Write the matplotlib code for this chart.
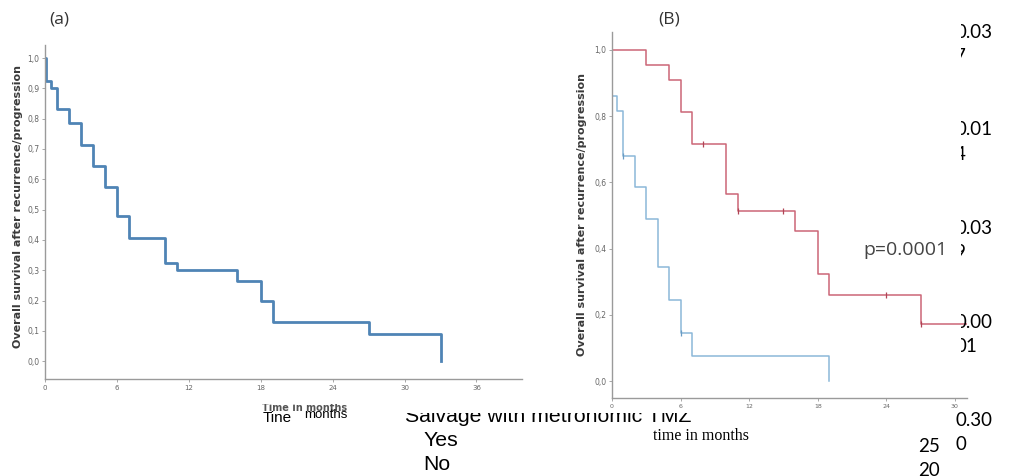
import matplotlib
matplotlib.use("Agg")
import matplotlib.pyplot as plt
from matplotlib.ticker import FuncFormatter
from matplotlib.transforms import Bbox, TransformedBbox

W, H = 1019, 476

# (a) overall survival after recurrence / progression, all patients
months_a = [0, 0.1, 0.5, 1, 2, 3, 4, 5, 6, 7, 10, 11, 16, 18, 19, 27, 33]
surv_a = [1.0, 0.925, 0.90, 0.833, 0.786, 0.714, 0.645, 0.575, 0.478, 0.405,
          0.323, 0.30, 0.265, 0.20, 0.13, 0.088, 0.0]

# (B) salvage with metronomic TMZ: yes / no
months_yes = [0, 3, 5, 6, 7, 10, 11, 16, 18, 19, 27, 34]
surv_yes = [1.0, 0.954, 0.908, 0.812, 0.717, 0.566, 0.515, 0.452, 0.323, 0.26, 0.172, 0.172]
cens_yes_t = [8, 11, 15, 24, 27]
cens_yes_s = [0.717, 0.515, 0.515, 0.26, 0.172]

months_no = [0, 0, 0.4, 1, 2, 3, 4, 5, 6, 7, 19]
surv_no = [1.0, 0.861, 0.815, 0.68, 0.586, 0.489, 0.343, 0.246, 0.146, 0.075, 0.0]
cens_no_t = [1, 6]
cens_no_s = [0.68, 0.146]

xticks_a = [0, 6, 12, 18, 24, 30, 36]
yticks_a = [0.0, 0.1, 0.2, 0.3, 0.4, 0.5, 0.6, 0.7, 0.8, 0.9, 1.0]
xticks_b = [0, 6, 12, 18, 24, 30]
yticks_b = [0.0, 0.2, 0.4, 0.6, 0.8, 1.0]

ylab = "Overall survival after recurrence/progression"
p_text = "p=0.0001"
legend_title = "Salvage with metronomic TMZ"
legend_items = ["Yes", "No"]
side_first = ["0.03", "0.01", "0.03", "0.00", "0.30"]
side_second = ["7", "4", "9", "01", "0"]
side_y = [33, 130, 228, 323, 420]
extra_nums = ["25", "20"]


def fx(x):
    return x / W


def fy(y):
    return 1 - y / H


comma = FuncFormatter(lambda v, _: f"{v:.1f}".replace(".", ","))


def style_axes(ax):
    for s in ["top", "right"]:
        ax.spines[s].set_visible(False)
    for s in ["left", "bottom"]:
        ax.spines[s].set_color("#9a9a9a")
        ax.spines[s].set_linewidth(1.0)
    ax.tick_params(colors="#9a9a9a", labelcolor="#666666", length=2, width=0.6,
                   labelsize=5.5, pad=2)
    ax.yaxis.set_major_formatter(comma)


fig = plt.figure(figsize=(W / 100, H / 100), dpi=100)

# ---- panel (a)
ax1 = fig.add_axes([fx(45), fy(379), (522 - 45) / W, (379 - 45) / H])
ax1.step(months_a, surv_a, where="post", color="#4f84b5", lw=2.0)
ax1.set_xlim(0, 39.8)
ax1.set_ylim(-0.059, 1.043)
ax1.set_xticks(xticks_a)
ax1.set_yticks(yticks_a)
style_axes(ax1)
ax1.tick_params(axis="x", labelsize=5)

fig.text(fx(18), fy(207), ylab, rotation=90, ha="center", va="center",
         fontsize=8, fontweight="bold", color="#3a3a3a")
fig.text(fx(49), fy(20), "(a)", ha="left", va="center", fontsize=12.5,
         color="#333333", family="Open Sans")

# ---- panel (B)
ax2 = fig.add_axes([fx(612), fy(398), (967 - 612) / W, (398 - 32) / H])
ax2.step(months_yes, surv_yes, where="post", color="#cc6677", lw=1.1)
ax2.step(months_no, surv_no, where="post", color="#8bb8d9", lw=1.1)
ax2.plot(cens_yes_t, cens_yes_s, ls="none", marker="|", ms=4, mew=0.9, color="#b04455")
ax2.plot(cens_no_t, cens_no_s, ls="none", marker="|", ms=4, mew=0.9, color="#6a9cc4")
ax2.set_xlim(0, 31.06)
ax2.set_ylim(-0.051, 1.054)
ax2.set_xticks(xticks_b)
ax2.set_yticks(yticks_b)
style_axes(ax2)
ax2.tick_params(axis="x", labelsize=4.5)

fig.text(fx(863), fy(250), p_text, fontsize=14, color="#444444",
         family="Open Sans", va="center")
fig.text(fx(582), fy(214), ylab, rotation=90, ha="center", va="center",
         fontsize=8, fontweight="bold", color="#3a3a3a")
fig.text(fx(658), fy(20), "(B)", ha="left", va="center", fontsize=12.5,
         color="#333333", family="Open Sans")

# ---- pasted-over labels
clip_mid = TransformedBbox(Bbox.from_extents(0, 0, 1, fy(404)), fig.transFigure)
tb = fig.text(fx(262), fy(408), "Time in months", fontsize=7, fontweight="bold",
              color="#555555", va="center")
tb.set_clip_box(clip_mid)
fig.text(fx(263), fy(422), "Tine", fontsize=11, family="Liberation Sans",
         va="baseline", color="black")
fig.text(fx(304), fy(418), "months", fontsize=9.5, family="Liberation Sans",
         va="baseline", color="black")

clip_low = TransformedBbox(Bbox.from_extents(0, 0, 1, fy(413)), fig.transFigure)
t = fig.text(fx(405), fy(422), legend_title, fontsize=15.3, family="Liberation Sans",
             va="baseline", color="black")
t.set_clip_box(clip_low)
for i, item in enumerate(legend_items):
    fig.text(fx(423), fy(446 + 24 * i), item, fontsize=15.3,
             family="Liberation Sans", va="baseline", color="black")

fig.text(fx(653), fy(440), "time in months", fontsize=11.5,
         family="Liberation Serif", va="baseline", color="black")

clip_right = TransformedBbox(Bbox.from_extents(fx(961), 0, 1, 1), fig.transFigure)
for i, (a, b) in enumerate(zip(side_first, side_second)):
    y0 = side_y[i]
    for k, s in enumerate([a, b]):
        tt = fig.text(fx(955), fy(y0 + 24 * k), s, fontsize=13.5, family="Lato",
                      va="center", color="black")
        if y0 < 400:
            tt.set_clip_box(clip_right)

for i, s in enumerate(extra_nums):
    fig.text(fx(918), fy(446 + 25 * i), s, fontsize=13.5, family="Lato",
             va="center", color="black")

fig.savefig("out.png", dpi=100)
